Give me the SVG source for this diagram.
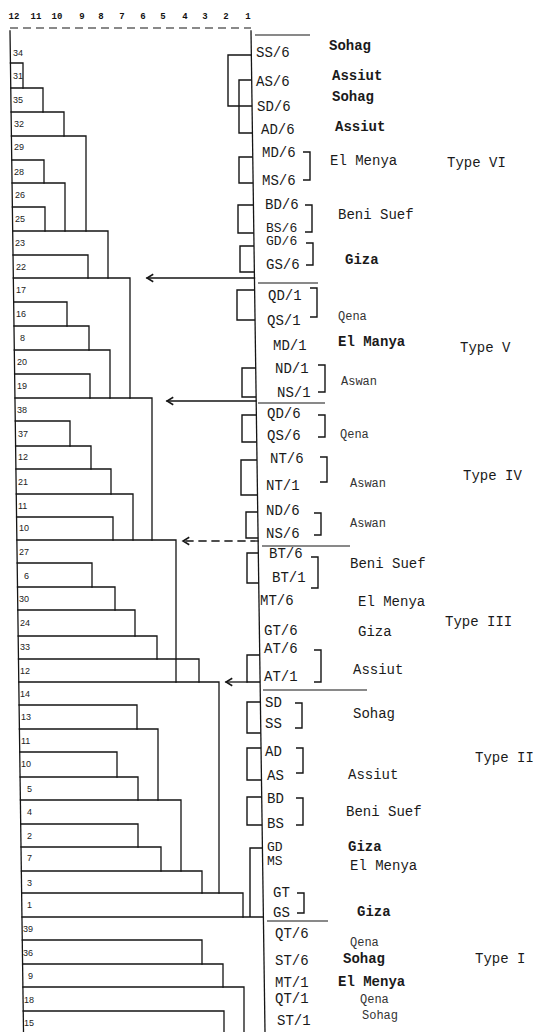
<svg xmlns="http://www.w3.org/2000/svg" width="540" height="1032" viewBox="0 0 540 1032">
<style>
.ln{fill:none;stroke:#151515;stroke-width:1.3;stroke-linecap:square}
.br{fill:none;stroke:#151515;stroke-width:1.4}
.sep{fill:none;stroke:#151515;stroke-width:1.1}
.ax{font-family:"Liberation Mono",monospace;font-size:9px;font-weight:bold;fill:#111;text-anchor:middle}
.nl{font-family:"Liberation Sans",Arial,sans-serif;font-size:9px;fill:#222}
.cd{font-family:"Liberation Mono","Courier New",monospace;font-size:14px;fill:#1a1a1a}
.cs{font-family:"Liberation Mono","Courier New",monospace;font-size:13px;fill:#1a1a1a}
.pl{font-family:"Liberation Mono","Courier New",monospace;font-size:14px;fill:#1a1a1a}
.pb{font-family:"Liberation Mono","Courier New",monospace;font-size:14px;font-weight:bold;fill:#1a1a1a}
.ps{font-family:"Liberation Mono","Courier New",monospace;font-size:12px;fill:#333}
.ty{font-family:"Liberation Mono","Courier New",monospace;font-size:14px;fill:#1a1a1a}
</style>
<defs>
<marker id="ah" markerUnits="userSpaceOnUse" markerWidth="10" markerHeight="10" viewBox="-6 -4 8 8" refX="0" refY="0" orient="auto">
<path d="M -5 -3 L 0 0 L -5 3" fill="none" stroke="#151515" stroke-width="1.2"/>
</marker>
</defs>
<rect width="540" height="1032" fill="#fff"/>

<g id="axis">
<line x1="10" y1="28" x2="251" y2="28" class="sep" stroke-dasharray="8 5"/>
<text class="ax" x="14" y="19">12</text>
<text class="ax" x="36" y="19">11</text>
<text class="ax" x="57" y="19">10</text>
<text class="ax" x="82" y="19">9</text>
<text class="ax" x="101" y="19">8</text>
<text class="ax" x="122" y="19">7</text>
<text class="ax" x="143" y="19">6</text>
<text class="ax" x="163" y="19">5</text>
<text class="ax" x="185" y="19">4</text>
<text class="ax" x="205" y="19">3</text>
<text class="ax" x="226" y="19">2</text>
<text class="ax" x="248" y="19">1</text>
</g>

<g id="connectors">
<line class="ln" x1="10" y1="31" x2="23.5" y2="1032"/>
<path class="ln" d="M10.4 63 H23 V88"/>
<path class="ln" d="M10.8 88 H43 V112"/>
<path class="ln" d="M11.1 112 H64 V136"/>
<path class="ln" d="M11.4 136 H86 V231"/>
<path class="ln" d="M11.8 160 H44 V183"/>
<path class="ln" d="M12.1 183 H65 V231"/>
<path class="ln" d="M12.4 207 H45 V231"/>
<path class="ln" d="M12.7 231 H108 V278"/>
<path class="ln" d="M13 255 H88 V278"/>
<path class="ln" d="M13.3 278 H130 V398"/>
<path class="ln" d="M13.7 302 H67 V326"/>
<path class="ln" d="M14 326 H89 V350"/>
<path class="ln" d="M14.3 350 H110 V398"/>
<path class="ln" d="M14.6 374 H90 V398"/>
<path class="ln" d="M15 398 H152 V540"/>
<path class="ln" d="M15.3 421 H70 V446"/>
<path class="ln" d="M15.6 446 H91 V469"/>
<path class="ln" d="M15.9 469 H111 V494"/>
<path class="ln" d="M16.3 494 H133 V540"/>
<path class="ln" d="M16.6 517 H113 V540"/>
<path class="ln" d="M16.9 540 H176 V682"/>
<path class="ln" d="M17.2 563 H92 V587"/>
<path class="ln" d="M17.5 587 H115 V610"/>
<path class="ln" d="M17.8 610 H135 V636"/>
<path class="ln" d="M18.2 636 H157 V659"/>
<path class="ln" d="M18.5 659 H199 V682"/>
<path class="ln" d="M18.8 682 H219 V893"/>
<path class="ln" d="M19.1 705 H137 V729"/>
<path class="ln" d="M19.4 729 H158 V800"/>
<path class="ln" d="M19.7 752 H117 V777"/>
<path class="ln" d="M20.1 777 H138 V800"/>
<path class="ln" d="M20.4 800 H181 V871"/>
<path class="ln" d="M20.7 824 H138 V847"/>
<path class="ln" d="M21 847 H161 V871"/>
<path class="ln" d="M21.4 871 H202 V893"/>
<path class="ln" d="M21.7 893 H243 V917"/>
<path class="ln" d="M22 917 H263"/>
<path class="ln" d="M22.3 940 H202 V964"/>
<path class="ln" d="M22.6 964 H223 V987"/>
<path class="ln" d="M22.9 987 H244 V1032"/>
<path class="ln" d="M23.2 1011 H224 V1032"/>

<line class="ln" x1="251" y1="31" x2="265" y2="1032"/>
<path class="br" d="M251.4 55 H228 V106 H252.1"/>
<path class="br" d="M251.7 80 H239 V133 H252.4"/>
<path class="br" d="M252.8 157 H239 V183 H253.1"/>
<path class="br" d="M253.5 205 H238 V233 H253.8"/>
<path class="br" d="M254 246 H240 V272 H254.4"/>
<path class="br" d="M254.6 290 H237 V320 H255.1"/>
<path class="br" d="M255.7 368 H242 V397 H256.1"/>
<path class="br" d="M256.4 415 H242 V442 H256.8"/>
<path class="br" d="M257 460 H241 V495 H257.5"/>
<path class="br" d="M257.7 512 H246 V538 H258.1"/>
<path class="br" d="M258.3 553 H247 V583 H258.7"/>
<path class="br" d="M259.8 655 H247 V682 H260.1"/>
<path class="br" d="M260.4 702 H247 V733 H260.8"/>
<path class="br" d="M261.1 748 H247 V780 H261.5"/>
<path class="br" d="M261.7 797 H247 V825 H262.1"/>
<path class="br" d="M262.5 848 H250 V917"/>

<path class="ln" d="M254.5 278 H147" marker-end="url(#ah)"/>
<path class="ln" d="M256 401 H167" marker-end="url(#ah)"/>
<path class="ln" d="M258 541 H183" stroke-dasharray="7 6" marker-end="url(#ah)"/>
<path class="ln" d="M247 682 H226" marker-end="url(#ah)"/>

<line class="sep" x1="255" y1="35" x2="310" y2="35"/>
<line class="sep" x1="258" y1="283" x2="318" y2="283"/>
<line class="sep" x1="258" y1="403" x2="325" y2="403"/>
<line class="sep" x1="262" y1="546" x2="350" y2="546"/>
<line class="sep" x1="263" y1="690" x2="367" y2="690"/>
<line class="sep" x1="267" y1="921" x2="328" y2="921"/>

<path class="br" d="M303 152 H310 V180 H303"/>
<path class="br" d="M305 205 H312 V232 H305"/>
<path class="br" d="M306 243 H313 V265 H306"/>
<path class="br" d="M310 288 H317 V317 H310"/>
<path class="br" d="M318 365 H325 V392 H318"/>
<path class="br" d="M318 415 H325 V437 H318"/>
<path class="br" d="M320 457 H327 V482 H320"/>
<path class="br" d="M314 513 H321 V535 H314"/>
<path class="br" d="M311 557 H318 V588 H311"/>
<path class="br" d="M314 650 H321 V682 H314"/>
<path class="br" d="M295 703 H302 V728 H295"/>
<path class="br" d="M296 748 H303 V773 H296"/>
<path class="br" d="M296 798 H303 V825 H296"/>
<path class="br" d="M297 893 H304 V913 H297"/>
</g>

<g id="dendro-labels">
<text class="nl" x="13" y="56">34</text>
<text class="nl" x="13" y="79">31</text>
<text class="nl" x="13" y="103">35</text>
<text class="nl" x="14" y="127">32</text>
<text class="nl" x="14" y="150">29</text>
<text class="nl" x="14" y="175">28</text>
<text class="nl" x="15" y="198">26</text>
<text class="nl" x="15" y="222">25</text>
<text class="nl" x="15" y="246">23</text>
<text class="nl" x="16" y="270">22</text>
<text class="nl" x="16" y="293">17</text>
<text class="nl" x="16" y="317">16</text>
<text class="nl" x="20" y="341">8</text>
<text class="nl" x="17" y="365">20</text>
<text class="nl" x="17" y="389">19</text>
<text class="nl" x="17" y="413">38</text>
<text class="nl" x="18" y="437">37</text>
<text class="nl" x="18" y="460">12</text>
<text class="nl" x="18" y="485">21</text>
<text class="nl" x="18" y="509">11</text>
<text class="nl" x="19" y="531">10</text>
<text class="nl" x="19" y="555">27</text>
<text class="nl" x="24" y="579">6</text>
<text class="nl" x="19" y="602">30</text>
<text class="nl" x="20" y="626">24</text>
<text class="nl" x="20" y="650">33</text>
<text class="nl" x="20" y="674">12</text>
<text class="nl" x="20" y="697">14</text>
<text class="nl" x="21" y="720">13</text>
<text class="nl" x="21" y="744">11</text>
<text class="nl" x="21" y="767">10</text>
<text class="nl" x="27" y="792">5</text>
<text class="nl" x="27" y="815">4</text>
<text class="nl" x="27" y="839">2</text>
<text class="nl" x="27" y="861">7</text>
<text class="nl" x="27" y="886">3</text>
<text class="nl" x="27" y="908">1</text>
<text class="nl" x="23" y="932">39</text>
<text class="nl" x="23" y="956">36</text>
<text class="nl" x="28" y="979">9</text>
<text class="nl" x="24" y="1003">18</text>
<text class="nl" x="24" y="1026">15</text>
</g>

<g id="type-VI">
<text class="cd" x="256" y="57">SS/6</text>
<text class="cd" x="256" y="86">AS/6</text>
<text class="cd" x="257" y="111">SD/6</text>
<text class="cd" x="261" y="134">AD/6</text>
<text class="cd" x="262" y="157">MD/6</text>
<text class="cd" x="262" y="185">MS/6</text>
<text class="cd" x="265" y="209">BD/6</text>
<text class="cs" x="266" y="232">BS/6</text>
<text class="cs" x="266" y="245">GD/6</text>
<text class="cd" x="266" y="269">GS/6</text>
<text class="pb" x="329" y="50">Sohag</text>
<text class="pb" x="332" y="80">Assiut</text>
<text class="pb" x="332" y="101">Sohag</text>
<text class="pb" x="335" y="131">Assiut</text>
<text class="pl" x="330" y="165">El Menya</text>
<text class="pl" x="338" y="219">Beni Suef</text>
<text class="pb" x="345" y="264">Giza</text>
<text class="ty" x="447" y="167">Type  VI</text>
</g>

<g id="type-V">
<text class="cd" x="268" y="300">QD/1</text>
<text class="cd" x="267" y="325">QS/1</text>
<text class="cd" x="273" y="350">MD/1</text>
<text class="cd" x="275" y="373">ND/1</text>
<text class="cd" x="277" y="397">NS/1</text>
<text class="ps" x="338" y="320">Qena</text>
<text class="pb" x="338" y="346">El Manya</text>
<text class="ps" x="341" y="385">Aswan</text>
<text class="ty" x="460" y="352">Type V</text>
</g>

<g id="type-IV">
<text class="cd" x="267" y="418">QD/6</text>
<text class="cd" x="267" y="440">QS/6</text>
<text class="cd" x="270" y="463">NT/6</text>
<text class="cd" x="266" y="490">NT/1</text>
<text class="cd" x="266" y="515">ND/6</text>
<text class="cd" x="266" y="538">NS/6</text>
<text class="ps" x="340" y="438">Qena</text>
<text class="ps" x="350" y="487">Aswan</text>
<text class="ps" x="350" y="527">Aswan</text>
<text class="ty" x="463" y="480">Type IV</text>
</g>

<g id="type-III">
<text class="cd" x="269" y="558">BT/6</text>
<text class="cd" x="272" y="582">BT/1</text>
<text class="cd" x="260" y="605">MT/6</text>
<text class="cd" x="264" y="635">GT/6</text>
<text class="cd" x="264" y="653">AT/6</text>
<text class="cd" x="264" y="681">AT/1</text>
<text class="pl" x="350" y="568">Beni Suef</text>
<text class="pl" x="358" y="606">El Menya</text>
<text class="pl" x="358" y="636">Giza</text>
<text class="pl" x="353" y="674">Assiut</text>
<text class="ty" x="445" y="626">Type III</text>
</g>

<g id="type-II">
<text class="cd" x="265" y="707">SD</text>
<text class="cd" x="265" y="728">SS</text>
<text class="cd" x="265" y="756">AD</text>
<text class="cd" x="267" y="780">AS</text>
<text class="cd" x="267" y="803">BD</text>
<text class="cd" x="267" y="828">BS</text>
<text class="cs" x="267" y="851">GD</text>
<text class="cs" x="267" y="865">MS</text>
<text class="cd" x="273" y="897">GT</text>
<text class="cd" x="273" y="917">GS</text>
<text class="pl" x="353" y="718">Sohag</text>
<text class="pl" x="348" y="779">Assiut</text>
<text class="pl" x="346" y="816">Beni Suef</text>
<text class="pb" x="348" y="851">Giza</text>
<text class="pl" x="350" y="870">El Menya</text>
<text class="pb" x="357" y="916">Giza</text>
<text class="ty" x="475" y="762">Type II</text>
</g>

<g id="type-I">
<text class="cd" x="275" y="938">QT/6</text>
<text class="cd" x="275" y="965">ST/6</text>
<text class="cd" x="275" y="987">MT/1</text>
<text class="cd" x="275" y="1003">QT/1</text>
<text class="cd" x="277" y="1025">ST/1</text>
<text class="ps" x="350" y="946">Qena</text>
<text class="pb" x="343" y="963">Sohag</text>
<text class="pb" x="338" y="986">El Menya</text>
<text class="ps" x="360" y="1003">Qena</text>
<text class="ps" x="362" y="1019">Sohag</text>
<text class="ty" x="475" y="963">Type  I</text>
</g>
</svg>
